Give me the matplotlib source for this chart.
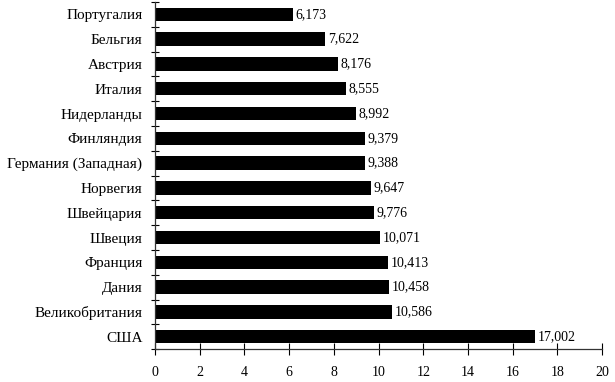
import matplotlib
matplotlib.use('Agg')
from matplotlib import pyplot as plt

# countries top to bottom, values in dollars
countries = ['Португалия', 'Бельгия', 'Австрия', 'Италия', 'Нидерланды',
             'Финляндия', 'Германия (Западная)', 'Норвегия', 'Швейцария',
             'Швеция', 'Франция', 'Дания', 'Великобритания', 'США']
values = [6173, 7622, 8176, 8555, 8992, 9379, 9388, 9647, 9776,
          10071, 10413, 10458, 10586, 17002]
xticks = [0, 2, 4, 6, 8, 10, 12, 14, 16, 18, 20]

plt.rcParams['font.family'] = ['Liberation Serif', 'DejaVu Serif']

fig = plt.figure(figsize=(6.15, 3.82), dpi=100)
ax = fig.add_axes([0.252, 0.086, 0.727, 0.909])

pos = list(range(len(countries)))
vals = [v / 1000.0 for v in values]
ax.barh(pos, vals, height=0.54, color='black')

#Value labels
for p, v, raw in zip(pos, vals, values):
    ax.text(v + 0.12, p, '{:,}'.format(raw), va='center', ha='left',
            fontsize=10)

ax.set_ylim(len(countries) - 0.5, -0.5)
ax.set_xlim(0, 20)

ax.set_yticks([p + 0.5 for p in pos[:-1]] + [-0.5, len(countries) - 0.5])
ax.set_yticklabels([])
ax.set_yticks(pos, minor=True)
ax.set_yticklabels(countries, minor=True, fontsize=11)
ax.tick_params(axis='y', which='minor', length=0, pad=9)
ax.tick_params(axis='y', which='major', direction='inout', length=6,
               width=0.8)

ax.set_xticks(xticks)
ax.set_xticklabels([str(t) for t in xticks], fontsize=10)
ax.tick_params(axis='x', direction='inout', length=8, width=0.8, pad=8)

for s in ['top', 'right']:
    ax.spines[s].set_visible(False)
for s in ['left', 'bottom']:
    ax.spines[s].set_color('#333333')
    ax.spines[s].set_linewidth(0.9)

fig.savefig('out.png', dpi=100)
